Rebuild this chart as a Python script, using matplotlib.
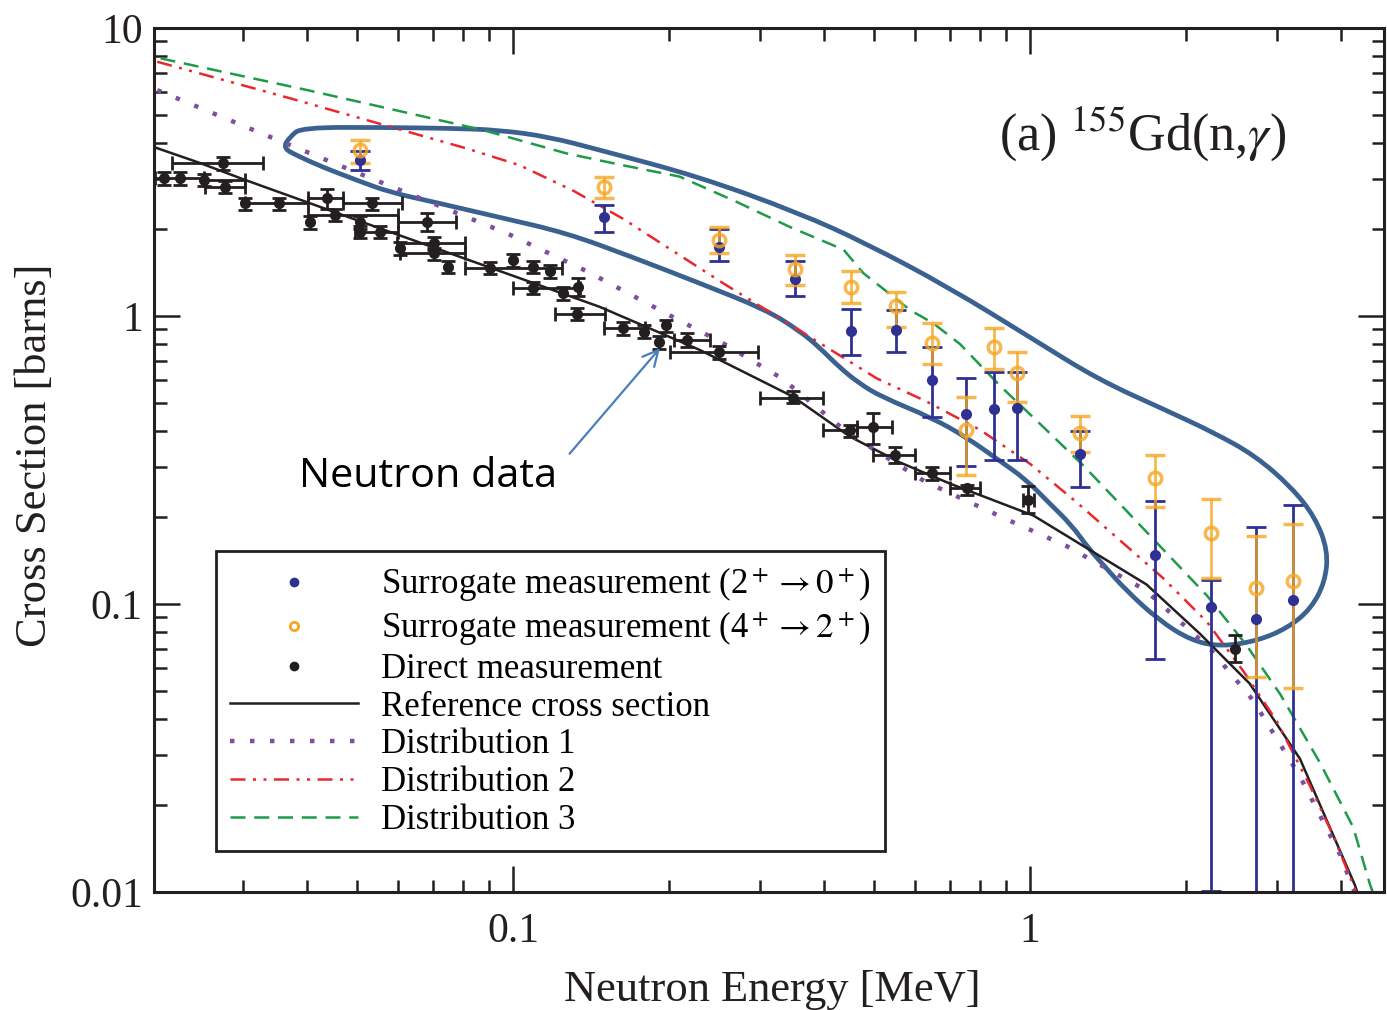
import numpy as np
import matplotlib
matplotlib.use("Agg")
import matplotlib.pyplot as plt
from matplotlib.lines import Line2D
from matplotlib.path import Path
from matplotlib.patches import PathPatch
from matplotlib.ticker import FuncFormatter, NullFormatter, LogLocator

nan = np.nan

# reference cross section and the three distributions (energy MeV, sigma barns)
ref_e = [0.0203, 0.0248, 0.03, 0.05, 0.1, 0.147, 0.23, 0.348, 0.449, 0.561, 0.70, 1.015, 1.68, 2.13, 2.66, 3.33, 4.25, 4.4]
ref_s = [3.85, 3.40, 2.99, 2.15, 1.38, 1.077, 0.762, 0.525, 0.381, 0.31, 0.262, 0.203, 0.117, 0.079, 0.053, 0.029, 0.0106, 0.0088]

d1_e = [0.0205, 0.0324, 0.0512, 0.0807, 0.0972, 0.139, 0.198, 0.255, 0.331, 0.445, 0.627, 0.901, 1.177, 1.67, 2.23, 2.70, 3.33, 3.98, 4.4]
d1_s = [6.09, 4.33, 3.09, 2.22, 1.94, 1.43, 1.02, 0.804, 0.608, 0.392, 0.266, 0.197, 0.159, 0.112, 0.070, 0.0464, 0.0252, 0.0135, 0.0085]

d2_e = [0.0205, 0.0371, 0.0813, 0.103, 0.131, 0.163, 0.255, 0.393, 0.505, 0.631, 0.80, 1.0, 1.23, 1.49, 1.81, 2.20, 2.59, 3.0, 3.48, 3.86, 4.22, 4.4]
d2_s = [7.64, 5.70, 3.82, 3.34, 2.72, 2.18, 1.30, 0.804, 0.608, 0.505, 0.403, 0.307, 0.226, 0.167, 0.123, 0.0867, 0.0583, 0.0393, 0.0234, 0.0157, 0.0106, 0.0088]

d3_e = [0.0208, 0.040, 0.0877, 0.127, 0.163, 0.210, 0.271, 0.343, 0.436, 0.476, 0.586, 0.65, 0.732, 0.875, 1.045, 1.27, 1.54, 1.84, 2.20, 2.62, 3.05, 3.64, 4.22, 4.55, 4.7]
d3_s = [7.85, 6.09, 4.42, 3.67, 3.34, 3.05, 2.49, 2.04, 1.70, 1.41, 1.05, 0.944, 0.80, 0.573, 0.423, 0.302, 0.210, 0.150, 0.107, 0.0722, 0.0486, 0.0281, 0.0168, 0.0106, 0.0090]

# direct measurement (nan = no energy bar)
dm_e = [0.0211, 0.0227, 0.0253, 0.0277, 0.0275, 0.0303, 0.0352, 0.0436, 0.0533, 0.0405, 0.0453, 0.0506, 0.0506, 0.0553,
        0.0681, 0.0604, 0.0702, 0.0702, 0.0750, 0.0903, 0.100, 0.1094, 0.118, 0.1094, 0.125, 0.1337, 0.1328, 0.163,
        0.179, 0.198, 0.192, 0.217, 0.250, 0.348, 0.449, 0.498, 0.548, 0.645, 0.754, 0.993, 2.49]
dm_s = [3.01, 3.01, 2.97, 2.81, 3.39, 2.46, 2.46, 2.56, 2.46, 2.12, 2.24, 2.12, 1.96, 1.96,
        2.12, 1.72, 1.79, 1.65, 1.48, 1.47, 1.56, 1.48, 1.43, 1.25, 1.20, 1.26, 1.02, 0.906,
        0.882, 0.93, 0.814, 0.826, 0.752, 0.521, 0.402, 0.413, 0.329, 0.284, 0.252, 0.230, 0.070]
dm_e_lo = [nan, 0.0203, 0.0253, 0.0254, 0.0219, nan, 0.0303, 0.0401, 0.0469, nan, 0.0401, nan, 0.0495, nan,
           0.060, nan, 0.0596, 0.0604, nan, 0.0807, nan, nan, nan, 0.100, nan, nan, 0.1206, 0.150,
           nan, nan, nan, 0.205, 0.201, 0.300, 0.398, 0.462, 0.498, 0.598, 0.700, 0.970, nan]
dm_e_hi = [nan, 0.0253, 0.0303, 0.0303, 0.0329, nan, 0.0401, 0.0469, 0.0610, nan, 0.060, nan, 0.060, nan,
           0.0777, nan, 0.0807, 0.0807, nan, 0.1242, nan, nan, nan, 0.1347, nan, nan, 0.1505, 0.180,
           nan, nan, nan, 0.240, 0.298, 0.398, 0.462, 0.541, 0.598, 0.700, 0.800, 1.020, nan]
dm_s_lo = [2.86, 2.86, 2.82, 2.67, 3.22, 2.34, 2.34, 2.35, 2.34, 2.01, 2.13, 2.01, 1.86, 1.86,
           1.98, 1.63, 1.70, 1.57, 1.41, 1.40, 1.48, 1.41, 1.36, 1.19, 1.14, 1.17, 0.97, 0.86,
           0.84, 0.88, 0.77, 0.78, 0.71, 0.50, 0.38, 0.36, 0.31, 0.27, 0.24, 0.207, 0.063]
dm_s_hi = [3.16, 3.16, 3.12, 2.95, 3.56, 2.58, 2.58, 2.77, 2.58, 2.23, 2.35, 2.23, 2.06, 2.06,
           2.28, 1.81, 1.88, 1.73, 1.55, 1.54, 1.64, 1.55, 1.50, 1.31, 1.26, 1.36, 1.07, 0.95,
           0.93, 0.97, 0.85, 0.87, 0.79, 0.55, 0.42, 0.46, 0.35, 0.30, 0.26, 0.256, 0.078]

# surrogate measurements
sg_e = [0.0506, 0.150, 0.250, 0.351, 0.450, 0.550, 0.647, 0.751, 0.852, 0.945, 1.249, 1.745, 2.24, 2.74, 3.23]
s20_s = [3.48, 2.21, 1.74, 1.35, 0.887, 0.894, 0.602, 0.456, 0.477, 0.480, 0.331, 0.148, 0.098, 0.0888, 0.103]
s20_lo = [3.21, 1.96, 1.55, 1.17, 0.733, 0.751, 0.447, 0.302, 0.316, 0.316, 0.255, 0.0643, 0.0101, 0.005, 0.005]
s20_hi = [3.75, 2.43, 2.00, 1.55, 1.06, 1.05, 0.78, 0.608, 0.641, 0.64, 0.40, 0.228, 0.121, 0.185, 0.221]
s42_s = [3.77, 2.81, 1.84, 1.46, 1.26, 1.08, 0.807, 0.403, 0.781, 0.632, 0.394, 0.274, 0.177, 0.114, 0.120]
s42_lo = [3.39, 2.57, 1.65, 1.28, 1.11, 0.918, 0.679, 0.280, 0.654, 0.503, 0.338, 0.217, 0.123, 0.0557, 0.0512]
s42_hi = [4.08, 3.05, 2.04, 1.63, 1.43, 1.21, 0.944, 0.522, 0.910, 0.753, 0.449, 0.329, 0.232, 0.172, 0.190]

labels = [r"Surrogate measurement (2$^+\rightarrow 0^+$)",
          r"Surrogate measurement (4$^+\rightarrow 2^+$)",
          "Direct measurement", "Reference cross section",
          "Distribution 1", "Distribution 2", "Distribution 3"]

# hand-drawn outline around the surrogate data (axes fractions, closed loop)
lasso_fx = [0.1047, 0.1104, 0.1201, 0.1859, 0.2403, 0.2808, 0.3214, 0.3620, 0.4432, 0.5244, 0.5787, 0.6461,
            0.7135, 0.7679, 0.8222, 0.8628, 0.8953, 0.9245, 0.9440, 0.9545, 0.9521, 0.9407, 0.9221, 0.8977,
            0.8677, 0.8433, 0.8166, 0.7898, 0.7735, 0.7597, 0.7459, 0.7273, 0.7086, 0.6867, 0.6599, 0.6323,
            0.5917, 0.5731, 0.5568, 0.5406, 0.5244, 0.4976, 0.4432, 0.3888, 0.3352, 0.2808, 0.2265, 0.1916,
            0.1648, 0.1372, 0.1185]
lasso_fy = [0.861, 0.874, 0.885, 0.885, 0.884, 0.882, 0.874, 0.859, 0.828, 0.786, 0.751, 0.700,
            0.641, 0.593, 0.558, 0.531, 0.505, 0.469, 0.434, 0.395, 0.359, 0.328, 0.306, 0.291,
            0.284, 0.291, 0.315, 0.350, 0.376, 0.398, 0.425, 0.451, 0.478, 0.500, 0.527, 0.549,
            0.573, 0.589, 0.608, 0.631, 0.650, 0.674, 0.705, 0.735, 0.763, 0.781, 0.799, 0.810,
            0.824, 0.839, 0.851]

ink = "#231f20"
blue = "#2e3192"
orange = "#f5a623"

plt.rcParams["font.family"] = ["Liberation Serif", "DejaVu Serif"]
plt.rcParams["mathtext.fontset"] = "stix"

fig = plt.figure(figsize=(13.87, 10.10), dpi=100)
ax = fig.add_axes([0.1110, 0.1168, 0.8868, 0.8554])
ax.set_xscale("log")
ax.set_yscale("log")

l_ref, = ax.plot(ref_e, ref_s, color=ink, lw=1.8)
l_d1, = ax.plot(d1_e, d1_s, color="#7d4f9e", lw=3.2, ls=(0, (1, 3.5)))
l_d2, = ax.plot(d2_e, d2_s, color="#e8282e", lw=1.8, ls=(0, (6, 3, 1.2, 3, 1.2, 3)))
l_d3, = ax.plot(d3_e, d3_s, color="#1f9a4a", lw=1.8, ls=(0, (6, 3.5)))

e = np.array(dm_e)
s = np.array(dm_s)
xerr = [e - np.array(dm_e_lo), np.array(dm_e_hi) - e]
yerr = [s - np.array(dm_s_lo), np.array(dm_s_hi) - s]
ax.errorbar(e, s, xerr=xerr, yerr=yerr, fmt="o", color=ink, ms=7, lw=2, capsize=5, capthick=2)

ge = np.array(sg_e)
a = np.array(s20_s)
ax.errorbar(ge, a, yerr=[a - np.array(s20_lo), np.array(s20_hi) - a], fmt="o", color=blue,
            ms=7, lw=2, capsize=7, capthick=2)
b = np.array(s42_s)
ax.errorbar(ge, b, yerr=[b - np.array(s42_lo), np.array(s42_hi) - b], fmt="o", color=orange,
            mfc="none", mec=orange, mew=2.5, ms=9, lw=2, capsize=7, capthick=2, alpha=0.8)

# smooth closed outline: outline points as quadratic bezier controls
pts = np.column_stack([lasso_fx, lasso_fy])
mids = (pts + np.roll(pts, -1, axis=0)) / 2
verts = [mids[-1]]
codes = [Path.MOVETO]
for i in range(len(pts)):
    verts += [pts[i], mids[i]]
    codes += [Path.CURVE3, Path.CURVE3]
ax.add_patch(PathPatch(Path(verts, codes), transform=ax.transAxes, fill=False,
                       edgecolor="#3a6190", lw=3.4, clip_on=False))

ax.annotate("", xy=(0.194, 0.787), xytext=(0.1276, 0.327),
            arrowprops=dict(arrowstyle="->", color="#4a7ebb", lw=1.6, mutation_scale=28))
ax.text(0.0385, 0.2547, "Neutron data", fontfamily="Open Sans", fontsize=29.8, ha="left", va="baseline")

ax.text(0.687, 0.859, r"(a) $^{155}$Gd(n,$\gamma$)", transform=ax.transAxes, fontsize=37.5,
        ha="left", va="baseline", color=ink)

ax.set_xlim(0.0202, 4.84)
ax.set_ylim(0.01, 10)

fmt = FuncFormatter(lambda v, _: f"{v:g}")
ax.xaxis.set_major_formatter(fmt)
ax.yaxis.set_major_formatter(fmt)
ax.xaxis.set_minor_locator(LogLocator(subs=np.arange(2, 10)))
ax.yaxis.set_minor_locator(LogLocator(subs=np.arange(2, 10)))
ax.xaxis.set_minor_formatter(NullFormatter())
ax.yaxis.set_minor_formatter(NullFormatter())
ax.tick_params(which="both", direction="in", top=True, right=True, colors=ink, width=1.8)
ax.tick_params(which="major", length=19, labelsize=30)
ax.tick_params(which="minor", length=9)
ax.tick_params(axis="x", which="major", pad=15)
ax.tick_params(axis="y", which="major", pad=8)
for sp in ax.spines.values():
    sp.set_linewidth(2.2)
    sp.set_color(ink)

ax.set_xlabel("Neutron Energy [MeV]", fontsize=32, color=ink)
ax.set_ylabel("Cross Section [barns]", fontsize=32, color=ink)
ax.xaxis.set_label_coords(0.503, -0.09)
ax.yaxis.set_label_coords(-0.0804, 0.506)

handles = [Line2D([], [], ls="none", marker="o", color=blue, ms=6),
           Line2D([], [], ls="none", marker="o", mfc="none", mec=orange, mew=2, ms=6),
           Line2D([], [], ls="none", marker="o", color=ink, ms=6),
           l_ref, l_d1, l_d2, l_d3]
leg = ax.legend(handles, labels, loc="lower left", bbox_to_anchor=(0.0503, 0.0475), borderaxespad=0,
                frameon=True, fancybox=False, edgecolor=ink, framealpha=1, fontsize=25,
                handlelength=3.7, handletextpad=0.66, labelspacing=0.14, borderpad=0.4)
leg.get_frame().set_linewidth(2)

fig.savefig("out.png", dpi=100)
